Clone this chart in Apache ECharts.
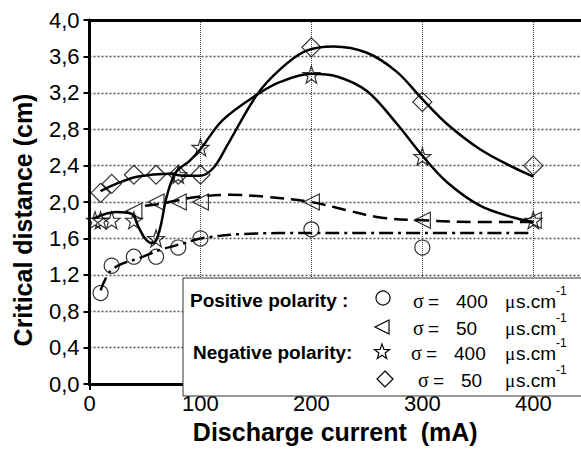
<!DOCTYPE html>
<html>
<head>
<meta charset="utf-8">
<script src="https://cdn.jsdelivr.net/npm/echarts@6/dist/echarts.min.js"></script>
<style>
  html, body { margin: 0; padding: 0; background: #fff; }
  #chart { width: 581px; height: 449px; }
</style>
</head>
<body>
<div id="chart"></div>
<script>
// measured points
const posHighX = [10, 20, 40, 60, 80, 100, 200, 300];
const posHighY = [1.0, 1.3, 1.4, 1.4, 1.5, 1.6, 1.7, 1.5];
const posLowX = [40, 60, 80, 100, 200, 300, 400];
const posLowY = [1.9, 2.0, 2.0, 2.0, 2.0, 1.8, 1.8];
const negHighX = [5, 10, 20, 40, 60, 80, 100, 200, 300, 400];
const negHighY = [1.8, 1.8, 1.8, 1.8, 1.6, 2.3, 2.6, 3.4, 2.5, 1.8];
const negLowX = [10, 20, 40, 60, 80, 100, 200, 300, 400];
const negLowY = [2.1, 2.2, 2.3, 2.3, 2.3, 2.3, 3.7, 3.1, 2.4];

// fitted curves
const posHighFitX = [10, 18, 29, 44, 65, 86, 100, 140, 200, 300, 400];
const posHighFitY = [1.03, 1.23, 1.32, 1.38, 1.48, 1.55, 1.6, 1.65, 1.66, 1.66, 1.66];
const posLowFitX = [50, 68, 93, 127, 157, 200, 232, 262, 300, 352, 400];
const posLowFitY = [1.96, 1.99, 2.05, 2.08, 2.06, 2.0, 1.91, 1.83, 1.8, 1.78, 1.78];
const negHighFitX = [4, 24, 38, 44, 50, 56, 60, 64, 70, 78, 90, 100, 120, 151, 172, 200, 223, 250, 277, 300, 322, 352, 382, 400];
const negHighFitY = [1.82, 1.89, 1.87, 1.73, 1.6, 1.55, 1.58, 1.73, 2.08, 2.33, 2.45, 2.58, 2.9, 3.18, 3.32, 3.41, 3.38, 3.22, 2.86, 2.51, 2.22, 1.96, 1.83, 1.78];
const negLowFitX = [10, 26, 44, 71, 85, 100, 112, 124, 151, 172, 195, 220, 250, 277, 300, 322, 352, 382, 400];
const negLowFitY = [2.12, 2.21, 2.28, 2.31, 2.29, 2.29, 2.38, 2.62, 3.18, 3.46, 3.66, 3.71, 3.64, 3.43, 3.13, 2.86, 2.58, 2.38, 2.28];

const yTicks = [0, 0.4, 0.8, 1.2, 1.6, 2.0, 2.4, 2.8, 3.2, 3.6, 4.0];

const FONT = 'Liberation Sans, Arial, Helvetica, sans-serif';
const SERIF = 'Liberation Serif, Times New Roman, serif';
const STAR = 'path://M0,-10L2.35,-3.24L9.51,-3.09L3.8,1.24L5.88,8.09L0,4L-5.88,8.09L-3.8,1.24L-9.51,-3.09L-2.35,-3.24Z';

const pair = (xs, ys) => xs.map((x, i) => [x, ys[i]]);

const chart = echarts.init(document.getElementById('chart'), null, { renderer: 'svg' });

const markerStyle = { color: 'rgba(255,255,255,0)', borderColor: '#000', borderWidth: 1.2 };

function scatter(name, xs, ys, symbol, size, rotate) {
  return {
    name, type: 'scatter', data: pair(xs, ys), symbol, symbolSize: size,
    symbolRotate: rotate || 0, itemStyle: markerStyle, z: 3, silent: true
  };
}
function fit(xs, ys, dash) {
  return {
    type: 'line', data: pair(xs, ys), smooth: 0.35, showSymbol: false, z: 4, silent: true,
    lineStyle: { color: '#000', width: 2.5, type: dash }
  };
}

// legend pieces
function starPoints(cx, cy, r1, r2) {
  const pts = [];
  for (let k = 0; k < 10; k++) {
    const a = -Math.PI / 2 + k * Math.PI / 5;
    const r = k % 2 ? r2 : r1;
    pts.push([cx + r * Math.cos(a), cy + r * Math.sin(a)]);
  }
  return pts;
}
const symStyle = { fill: 'none', stroke: '#000', lineWidth: 1.2 };
function txt(x, y, text, size, weight, family) {
  return {
    type: 'text', x, y, z: 101,
    style: { text, fill: '#000', font: (weight || 'normal') + ' ' + size + 'px ' + (family || FONT), verticalAlign: 'middle' }
  };
}
function legendRow(y, value, dx) {
  return [
    txt(413 + dx, y, 'σ', 20, 'normal', SERIF),
    txt(428 + dx, y, '=', 19),
    txt(456 + dx, y, value, 19),
    txt(505, y, 'μ', 19, 'normal', SERIF),
    txt(516, y, 's.cm', 19),
    txt(556, y - 10, '-1', 12)
  ];
}

const option = {
  animation: false,
  textStyle: { fontFamily: FONT },
  grid: { left: 89.5, top: 20, right: 0, bottom: 52 },
  xAxis: [{
    type: 'value', min: 0, max: 443, interval: 100,
    name: 'Discharge current  (mA)', nameLocation: 'middle', nameGap: 33,
    nameTextStyle: { fontSize: 25, fontWeight: 'bold', color: '#000', fontFamily: FONT },
    axisLine: { lineStyle: { color: '#000', width: 3 } },
    axisTick: { length: 6, lineStyle: { color: '#000', width: 2 } },
    axisLabel: { fontSize: 22, color: '#000', margin: 8, showMaxLabel: false, fontFamily: FONT },
    splitLine: { show: true, lineStyle: { color: '#444', width: 1, type: 'dotted' } }
  }, {
    type: 'value', min: 0, max: 443, position: 'top',
    axisLine: { show: true, lineStyle: { color: '#000', width: 3 } },
    axisTick: { show: false }, axisLabel: { show: false }, splitLine: { show: false }
  }],
  yAxis: [{
    type: 'value', min: yTicks[0], max: yTicks[yTicks.length - 1], interval: 0.4,
    axisLine: { show: true, lineStyle: { color: '#000', width: 3 } },
    axisTick: { show: true, length: 6, lineStyle: { color: '#000', width: 2 } },
    axisLabel: {
      fontSize: 22, color: '#000', margin: 10, fontFamily: FONT,
      formatter: v => v.toFixed(1).replace('.', ',')
    },
    splitLine: { show: true, lineStyle: { color: '#555', width: 1.4, type: [2, 2] } }
  }],
  series: [
    scatter('pos400', posHighX, posHighY, 'circle', 15),
    scatter('pos50', posLowX, posLowY, 'triangle', 16, 90),
    scatter('neg400', negHighX, negHighY, STAR, 17),
    scatter('neg50', negLowX, negLowY, 'diamond', [19, 19]),
    fit(posHighFitX, posHighFitY, [14, 5, 3, 5]),
    fit(posLowFitX, posLowFitY, [14, 7]),
    fit(negHighFitX, negHighFitY, 'solid'),
    fit(negLowFitX, negLowFitY, 'solid')
  ],
  graphic: [
    { type: 'text', x: 23, y: 220, rotation: Math.PI / 2, z: 101,
      style: { text: 'Critical distance (cm)', fill: '#000', font: 'bold 25px ' + FONT, align: 'center', verticalAlign: 'middle' } },
    { type: 'rect', z: 100, shape: { x: 183, y: 278, width: 402, height: 118 },
      style: { fill: '#fff', stroke: '#333', lineWidth: 1 } },
    txt(190, 300, 'Positive polarity :', 19, 'bold'),
    txt(193, 352, 'Negative polarity:', 19, 'bold'),
    { type: 'circle', z: 101, shape: { cx: 383, cy: 298, r: 7 }, style: symStyle },
    { type: 'polygon', z: 101, shape: { points: [[375, 327], [389, 320], [389, 334]] }, style: symStyle },
    { type: 'polygon', z: 101, shape: { points: starPoints(382, 352, 8, 3.3) }, style: symStyle },
    { type: 'polygon', z: 101, shape: { points: [[385, 371], [393, 379], [385, 387], [377, 379]] }, style: symStyle },
    ...legendRow(301, '400', 0),
    ...legendRow(328, '50', 0),
    ...legendRow(353, '400', -2),
    ...legendRow(380, '50', 5)
  ]
};

chart.setOption(option);
</script>
</body>
</html>
